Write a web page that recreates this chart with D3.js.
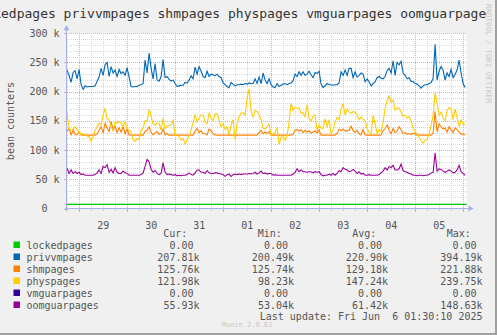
<!DOCTYPE html>
<html><head><meta charset="utf-8">
<script src="https://cdn.jsdelivr.net/npm/d3@7"></script>
<style>
body{margin:0;background:#f0f0f0}
svg{display:block}
text{font-family:"DejaVu Sans Mono",monospace;white-space:pre}
</style>
</head><body>
<svg id="c" width="497" height="335"></svg>
<script>
// ---------- data (values in thousands, hourly samples) ----------
const titleText = "lockedpages privvmpages shmpages physpages vmguarpages oomguarpages";
const seriesNames = ["lockedpages","privvmpages","shmpages","physpages","vmguarpages","oomguarpages"];
const seriesColors = ["#00cc00","#0066b3","#ff8000","#ffcc00","#330099","#990099"];
const dayLabels = ["29","30","31","01","02","03","04","05"];
const yTickValues = [0,50,100,150,200,250,300];
const yTickLabels = ["0  ","50 k","100 k","150 k","200 k","250 k","300 k"];
const curVals = ["0.00 ","207.81k","125.76k","121.98k","0.00 ","55.93k"];
const minVals = ["0.00 ","200.49k","125.74k","98.23k","0.00 ","53.04k"];
const avgVals = ["0.00 ","220.90k","129.18k","147.24k","0.00 ","61.42k"];
const maxVals = ["0.00 ","394.19k","221.88k","239.75k","0.00 ","148.63k"];

const lockedpages = [7, 7];
const vmguarpages = [0, 0];
const privvmpages = [
237,228,216,233,236,222,238,212,204,210,
208,209,209,209,210,218,225,240,228,246,
250,226,243,232,237,226,238,231,234,228,
241,225,209,208,209,209,211,212,214,254,
232,266,240,222,248,220,218,226,255,224,
226,221,218,220,214,209,210,211,211,216,
215,220,227,222,242,230,243,235,226,224,
235,226,230,229,227,230,226,224,215,212,
209,207,216,213,210,212,212,213,212,214,
213,215,214,214,222,214,225,214,232,220,
214,222,212,208,207,214,209,211,213,214,
212,214,215,219,230,226,234,228,234,228,
230,235,229,224,233,231,235,213,207,210,
214,212,212,211,212,212,215,234,228,237,
228,240,240,224,234,225,228,232,230,217,
222,217,210,214,217,224,226,223,222,226,
236,240,232,253,228,250,246,252,232,228,
222,224,218,217,214,213,210,206,210,212,
212,214,216,222,281,220,235,243,237,220,
232,226,238,224,230,237,254,232,214,207];
const shmpages = [
132,137,126,134,127,126,131,126,125.7,125.7,
125.7,125.7,125.7,125.7,125.7,128,134,140,130,146,
138,132,149,134,141,130,138,131,140,128,
136,126,125.7,125.7,125.7,125.7,125.7,125.7,125.7,132,
134,140,130,126,130,132,127,128,136,126,
128,125.7,125.7,125.7,125.7,125.7,125.7,125.7,125.7,125.7,
125.7,125.7,125.7,125.7,132,137,130,133,128,128,
126,136,133,128,126,125.7,125.7,125.7,125.7,125.7,
125.7,125.7,125.7,125.7,125.7,125.7,125.7,125.7,125.7,125.7,
125.7,125.7,125.7,125.7,125.7,125.7,130,134,128,131,
128,132,125.7,125.7,125.7,125.7,125.7,125.7,125.7,125.7,
125.7,125.7,125.7,127,134,135,133,135,130,134,
131,133,129,131,133,129,134,125.7,125.7,125.7,
125.7,125.7,125.7,125.7,125.7,129,136,133,136,133,
133,134,141,133,131,134,128,126,135,126,
125.7,125.7,125.7,125.7,125.7,125.7,125.7,126,133,137,
143,134,128,137,130,132,140,135,128,130,
127,128,127,129,128,125.7,125.7,125.7,125.7,125.7,
125.7,125.7,125.7,129,166,131,145,140,136,138,
131,140,135,130,138,135,131,127,128,125.8];
const physpages = [
165,136,134,136,140,135,132,126,128,126,
124,123,115,123,133,140,146,143,160,172,
155,151,140,134,148,146,149,146,140,149,
137,134,131,118,115,120,118,133,138,150,
150,170,158,145,143,146,146,134,155,136,
141,142,143,151,125,127,122,117,120,110,
118,124,134,148,160,148,155,160,160,148,
145,163,155,150,162,162,152,140,145,135,
140,126,143,152,118,146,157,163,164,160,
188,205,167,157,168,166,160,152,138,136,
140,145,125,128,130,138,110,122,123,117,
125,148,180,168,173,172,172,163,164,157,
178,154,150,158,160,133,143,138,137,154,
140,152,128,135,148,156,152,170,180,160,
170,165,163,166,165,160,152,157,153,150,
137,130,127,160,145,128,135,132,147,172,
185,193,182,185,168,172,172,165,158,160,
155,157,150,138,131,128,122,116,112,117,
118,128,142,160,198,180,160,165,155,150,
168,173,170,152,170,155,140,152,145,143];
const oomguarpages = [
69,60,66,60,63,60,62,58,59,57,
57,57,57,57,58,61,66,60,72,70,
75,62,67,61,70,62,60,60,64,61,
60,57,57,57,57,57,57,58,61,72,
84,80,67,62,65,60,58,60,78,62,
58,59,58,57,58,56,57,56,57,57,
58,61,58,57,61,66,66,62,62,60,
65,61,60,60,61,61,60,59,58,55,
58,59,55,58,59,58,59,58,59,59,
59,60,59,60,62,59,61,64,60,61,
59,60,60,57,58,57,57,57,57,57,
57,57,57,59,62,68,63,66,63,63,
62,63,63,61,63,62,63,58,56,57,
57,59,57,60,57,60,65,63,70,67,
66,63,64,67,64,60,63,59,60,57,
57,58,57,57,57,57,58,61,64,70,
66,72,70,74,66,66,68,76,65,63,
62,60,59,57,57,56,57,57,56,57,
57,58,61,62,95,64,68,67,64,62,
64,66,64,61,62,66,74,63,60,57];

// ---------- layout ----------
const W = 497, H = 335;
const PL = 66.5, PR = 466.5, PT = 33.3, PB = 208.5;
const tStart = new Date(2025, 4, 28, 17, 36);
const tEnd = new Date(2025, 5, 6, 1, 36);
const HOUR = 3600e3;

const svg = d3.select("#c");
const x = d3.scaleTime().domain([tStart, tEnd]).range([PL, PR]);
const y = d3.scaleLinear().domain([0, 300]).range([PB, PT]);

// canvas
svg.append("rect").attr("width", W).attr("height", H).attr("fill", "#f0f0f0");
// plot background
svg.append("rect").attr("x", PL).attr("y", PT).attr("width", PR - PL).attr("height", PB - PT).attr("fill", "#ffffff");

const grid = svg.append("g").attr("shape-rendering", "crispEdges");
// minor horizontal grid
d3.range(10, 301, 10).forEach(v => {
  const major = v % 50 === 0;
  grid.append("line").attr("x1", PL).attr("x2", PR)
    .attr("y1", Math.round(y(v)) + 0.5).attr("y2", Math.round(y(v)) + 0.5)
    .attr("stroke", major ? "#e5a5a5" : "#d8d8d8").attr("stroke-dasharray", "1,1");
});
// vertical grid
const sixHours = d3.timeHour.every(6).range(tStart, tEnd);
sixHours.forEach(t => {
  const major = t.getHours() === 0;
  const xx = Math.round(x(t)) + 0.5;
  grid.append("line").attr("x1", xx).attr("x2", xx).attr("y1", PT).attr("y2", PB)
    .attr("stroke", major ? "#e5a5a5" : "#d8d8d8").attr("stroke-dasharray", "1,1");
  if (major) {
    grid.append("line").attr("x1", xx).attr("x2", xx).attr("y1", PB).attr("y2", PB + 3)
      .attr("stroke", "#e5a5a5");
  } else {
    grid.append("line").attr("x1", xx).attr("x2", xx).attr("y1", PB).attr("y2", PB + 2)
      .attr("stroke", "#cccccc");
  }
});
// y tick marks
yTickValues.forEach(v => {
  const yy = Math.round(y(v)) + 0.5;
  grid.append("line").attr("x1", PL - 3).attr("x2", PL).attr("y1", yy).attr("y2", yy).attr("stroke", "#e5a5a5");
});

// series
const times = d3.range(privvmpages.length).map(i => new Date(tStart.getTime() + (i + 0.3) * HOUR));
const line = d3.line().x(d => x(d[0])).y(d => y(d[1]));
function draw(vals, color, tt) {
  svg.append("path").datum(tt.map((t, i) => [t, vals[i]]))
    .attr("d", line).attr("fill", "none").attr("stroke", color).attr("stroke-width", 1.1);
}
const edgeTimes = [tStart, tEnd];
draw(lockedpages, seriesColors[0], edgeTimes);
draw(privvmpages, seriesColors[1], times);
draw(shmpages, seriesColors[2], times);
draw(physpages, seriesColors[3], times);
draw(vmguarpages, "#9a9ae0", edgeTimes);
draw(oomguarpages, seriesColors[5], times);

// axes
const axisColor = "#a8b0e8";
svg.append("line").attr("x1", PL).attr("x2", PL).attr("y1", PT - 3).attr("y2", PB + 2)
  .attr("stroke", axisColor).attr("shape-rendering", "crispEdges");
svg.append("line").attr("x1", PL - 2).attr("x2", PR + 2).attr("y1", PB).attr("y2", PB)
  .attr("stroke", axisColor).attr("shape-rendering", "crispEdges");
svg.append("path").attr("d", `M${PL - 3},${PT - 3}L${PL + 3},${PT - 3}L${PL},${PT - 8}Z`).attr("fill", axisColor);
svg.append("path").attr("d", `M${PR + 2},${PB - 3}L${PR + 2},${PB + 3}L${PR + 7},${PB}Z`).attr("fill", axisColor);

// y labels
const txtColor = "#555555";
yTickValues.forEach((v, i) => {
  svg.append("text").attr("x", 59.5).attr("y", y(v) + 3.5).attr("text-anchor", "end")
    .attr("font-size", 10).attr("fill", txtColor).text(yTickLabels[i]);
});
// x labels (noon of each day)
const days = d3.timeDay.range(new Date(2025, 4, 29), new Date(2025, 5, 6));
days.forEach((d, i) => {
  svg.append("text").attr("x", x(new Date(d.getTime() + 12 * HOUR))).attr("y", 229)
    .attr("text-anchor", "middle").attr("font-size", 10).attr("fill", txtColor).text(dayLabels[i]);
});
// y axis title
svg.append("text").attr("transform", "translate(14,121) rotate(-90)").attr("text-anchor", "middle")
  .attr("font-size", 10).attr("fill", txtColor).text("bean counters");

// title
svg.append("text").attr("x", -30.3).attr("y", 18).attr("font-size", 13).attr("fill", "#333333").text(titleText);

// watermark
svg.append("rect").attr("x", 486).attr("y", 0).attr("width", 11).attr("height", 30).attr("fill", "#f0f0f0");
svg.append("text").attr("transform", "translate(486,4) rotate(90)").attr("font-size", 7.5)
  .attr("fill", "#c8c8c8").text("RRDTOOL / TOBI OETIKER");

// legend
const lg = svg.append("g");
const heads = [["Cur:", 163.3], ["Min:", 257.7], ["Avg:", 352.3], ["Max:", 446.7]];
heads.forEach(h => lg.append("text").attr("x", h[1]).attr("y", 236.5).attr("font-size", 10).attr("fill", txtColor).text(h[0]));
const colsX = [199.5, 294, 388, 482.5];
const cols = [curVals, minVals, avgVals, maxVals];
seriesNames.forEach((n, i) => {
  const by = 248.5 + i * 12;
  lg.append("rect").attr("x", 13.5).attr("y", by - 7).attr("width", 6.5).attr("height", 6.5).attr("fill", seriesColors[i]);
  lg.append("text").attr("x", 26.5).attr("y", by).attr("font-size", 10).attr("fill", txtColor).text(n);
  cols.forEach((c, j) => {
    lg.append("text").attr("x", colsX[j]).attr("y", by).attr("text-anchor", "end")
      .attr("font-size", 10).attr("fill", txtColor).text(c[i]);
  });
});
lg.append("text").attr("x", 482.5).attr("y", 320.3).attr("text-anchor", "end").attr("font-size", 10)
  .attr("fill", txtColor).text("Last update: Fri Jun  6 01:30:10 2025");
lg.append("text").attr("x", 247).attr("y", 327).attr("text-anchor", "middle").attr("font-size", 7)
  .attr("fill", "#c8c8c8").text("Munin 2.0.63");

// frame
svg.append("line").attr("x1", 0).attr("x2", W).attr("y1", H - 1).attr("y2", H - 1).attr("stroke", "#a0a0a0").attr("stroke-width", 2);
svg.append("line").attr("x1", W - 1).attr("x2", W - 1).attr("y1", 0).attr("y2", H).attr("stroke", "#a0a0a0").attr("stroke-width", 2);
</script>
</body></html>
